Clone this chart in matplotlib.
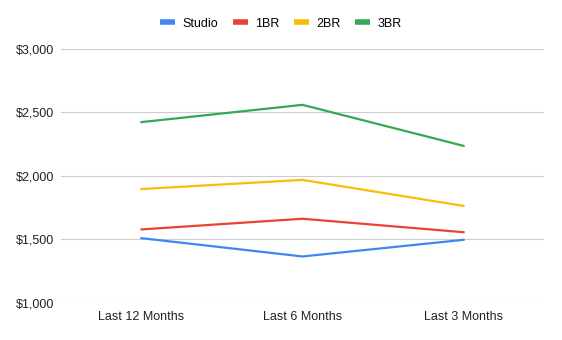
import matplotlib
matplotlib.use("Agg")
import matplotlib.pyplot as plt
from matplotlib.ticker import FuncFormatter

periods = ["Last 12 Months", "Last 6 Months", "Last 3 Months"]
studio = [1510, 1366, 1497]
one_br = [1579, 1663, 1557]
two_br = [1897, 1969, 1764]
three_br = [2424, 2560, 2237]

series = [
    ("Studio", studio, "#4285F4"),
    ("1BR", one_br, "#EA4335"),
    ("2BR", two_br, "#FBBC04"),
    ("3BR", three_br, "#34A853"),
]

plt.rcParams["font.family"] = ["Liberation Sans", "DejaVu Sans"]

fig = plt.figure(figsize=(5.62, 3.4), dpi=100)
ax = fig.add_axes([0.1085, 0.109, 0.8595, 0.747])

x = list(range(len(periods)))
for name, vals, color in series:
    ax.plot(x, vals, color=color, linewidth=1.6, label=name,
            solid_joinstyle="miter", zorder=3)

ax.set_xlim(-0.5, len(periods) - 0.5)
ax.set_ylim(1000, 3000)
ax.set_yticks([1000, 1500, 2000, 2500, 3000])
ax.yaxis.set_major_formatter(FuncFormatter(lambda v, p: f"${v:,.0f}"))
ax.set_xticks(x)
ax.set_xticklabels(periods)

ax.grid(axis="y", color="#cccccc", linewidth=0.8)
ax.set_axisbelow(True)
for s in ax.spines.values():
    s.set_visible(False)
ax.tick_params(axis="both", length=0, labelsize=9, colors="#222222")
ax.tick_params(axis="y", pad=5)
ax.tick_params(axis="x", pad=6)

handles, labels = ax.get_legend_handles_labels()
leg = fig.legend(handles, labels, loc="center", bbox_to_anchor=(0.5, 0.93),
                 ncol=4, frameon=False, fontsize=9, handlelength=1.2,
                 handletextpad=0.55, columnspacing=1.2)
for h in leg.legend_handles:
    h.set_linewidth(4)
    h.set_solid_capstyle("butt")

fig.savefig("out.png", dpi=100)
